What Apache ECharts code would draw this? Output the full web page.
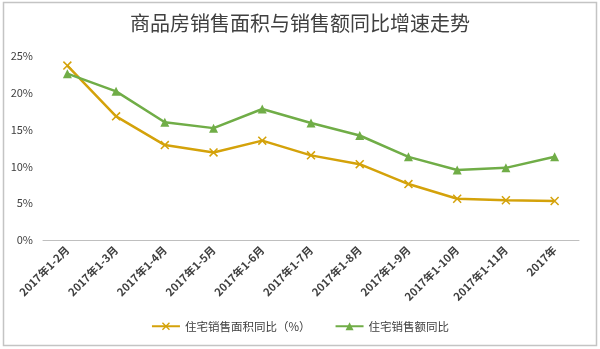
<!DOCTYPE html>
<html><head><meta charset="utf-8">
<script src="https://cdn.jsdelivr.net/npm/echarts@6/dist/echarts.min.js"></script>
<style>html,body{margin:0;padding:0;background:#fff}#c{width:600px;height:349px}</style>
</head><body><div id="c"></div>
<script>
var categories = ['2017年1-2月','2017年1-3月','2017年1-4月','2017年1-5月','2017年1-6月','2017年1-7月','2017年1-8月','2017年1-9月','2017年1-10月','2017年1-11月','2017年'];
var areaGrowth = [23.7, 16.8, 12.9, 11.9, 13.5, 11.5, 10.3, 7.6, 5.6, 5.4, 5.3];
var amountGrowth = [22.6, 20.2, 16.0, 15.2, 17.8, 15.9, 14.2, 11.3, 9.5, 9.8, 11.3];
var seriesNames = ['住宅销售面积同比（%）', '住宅销售额同比'];
var titleText = '商品房销售面积与销售额同比增速走势';

var chart = echarts.init(document.getElementById('c'));
var xPath = 'path://M0,1.2L1.2,0L10,8.8L8.8,10Z M8.8,0L10,1.2L1.2,10L0,8.8Z';
var font = '"Noto Sans CJK SC", "Noto Sans", sans-serif';
chart.setOption({
  animation: false,
  backgroundColor: '#fff',
  graphic: [{type:'rect', shape:{x:3.5,y:2.5,width:593,height:343}, style:{fill:'none', stroke:'#c4c4c4', lineWidth:1.5}, silent:true}],
  title: {text: titleText, left: 'center', top: 8, textStyle: {fontFamily: font, fontSize: 20, fontWeight: 'normal', color: '#404040'}},
  grid: {left: 43, right: 21, top: 56, bottom: 109},
  legend: {bottom: 12, left: 'center', itemGap: 24, itemWidth: 28, itemHeight: 10,
    textStyle: {fontFamily: font, fontSize: 11.5, color: '#404040'},
    data: seriesNames},
  xAxis: {type: 'category', data: categories, boundaryGap: true,
    axisLine: {lineStyle: {color: '#bfbfbf', width: 1}}, axisTick: {show: false},
    axisLabel: {interval: 0, rotate: 45, fontSize: 11, color: '#404040', fontFamily: font, fontWeight: 'bold', margin: 8}},
  yAxis: {type: 'value', min: 0, max: 25, interval: 5,
    axisLine: {show: false}, axisTick: {show: false}, splitLine: {show: false},
    axisLabel: {formatter: '{value}%', fontSize: 11, color: '#404040', fontFamily: font, margin: 10}},
  series: [
    {name: seriesNames[0], type: 'line', data: areaGrowth, symbol: xPath, symbolSize: 9,
      lineStyle: {color: '#d4a20a', width: 2.5}, itemStyle: {color: '#d4a20a'}},
    {name: seriesNames[1], type: 'line', data: amountGrowth, symbol: 'triangle', symbolSize: 9,
      lineStyle: {color: '#70ad47', width: 2.5}, itemStyle: {color: '#70ad47'}}
  ]
});
</script></body></html>
